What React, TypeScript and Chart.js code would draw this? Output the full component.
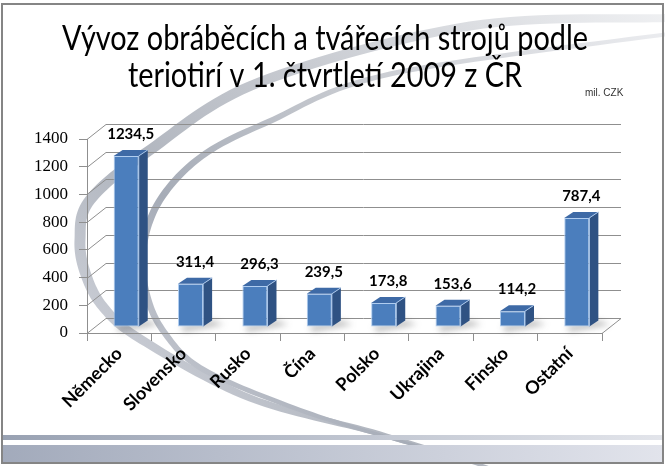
import React, { useEffect, useRef } from "react";
import { Chart, registerables } from "chart.js";

Chart.register(...registerables);

const categories = ["Německo", "Slovensko", "Rusko", "Čína", "Polsko", "Ukrajina", "Finsko", "Ostatní"];
const values = [1234.5, 311.4, 296.3, 239.5, 173.8, 153.6, 114.2, 787.4];
const yTicks = [0, 200, 400, 600, 800, 1000, 1200, 1400];
const titleLines = ["Vývoz obráběcích a tvářecích strojů podle", "teriotirí v 1. čtvrtletí 2009 z ČR"];
const unitLabel = "mil. CZK";

const W = 665;
const H = 466;
const GRID = "#8f8f8f";
const WALL_DX = 19;
const WALL_DY = -15;
const BAR_DX = 7;
const BAR_DY = -6;
const DEPTH_DX = 9;
const DEPTH_DY = -6;

type P = [number, number];

const outerArc: P[] = [[668, 18], [470, 26], [260, 82], [150, 150], [90, 200], [80, 240], [86, 275], [104, 308], [142, 340], [250, 398], [380, 434], [490, 468]];
const innerArc: P[] = [[668, 34], [390, 74], [268, 122], [202, 156], [160, 200], [143, 248], [146, 292], [164, 332], [204, 370], [300, 410], [390, 438], [440, 452]];

function sample(pts: P[], steps = 16): P[] {
  const out: P[] = [];
  for (let i = 0; i < pts.length - 1; i++) {
    const p0 = pts[Math.max(0, i - 1)], p1 = pts[i], p2 = pts[i + 1], p3 = pts[Math.min(pts.length - 1, i + 2)];
    for (let s = 0; s < steps; s++) {
      const t = s / steps, t2 = t * t, t3 = t2 * t;
      const f = (k: number) =>
        0.5 * (2 * p1[k] + (-p0[k] + p2[k]) * t + (2 * p0[k] - 5 * p1[k] + 4 * p2[k] - p3[k]) * t2 + (-p0[k] + 3 * p1[k] - 3 * p2[k] + p3[k]) * t3);
      out.push([f(0), f(1)]);
    }
  }
  out.push(pts[pts.length - 1]);
  return out;
}

function band(ctx: CanvasRenderingContext2D, pts: P[], wStart: number, wMax: number, wEnd: number, fill: CanvasGradient) {
  const s = sample(pts);
  const n = s.length;
  const left: P[] = [], right: P[] = [];
  for (let i = 0; i < n; i++) {
    const a = s[Math.max(0, i - 1)], b = s[Math.min(n - 1, i + 1)];
    let tx = b[0] - a[0], ty = b[1] - a[1];
    const len = Math.hypot(tx, ty) || 1;
    tx /= len; ty /= len;
    const u = i / (n - 1);
    const w = u < 0.45 ? wStart + (wMax - wStart) * Math.sin((u / 0.45) * Math.PI / 2) : wEnd + (wMax - wEnd) * Math.cos(((u - 0.45) / 0.55) * Math.PI / 2);
    left.push([s[i][0] - ty * w / 2, s[i][1] + tx * w / 2]);
    right.push([s[i][0] + ty * w / 2, s[i][1] - tx * w / 2]);
  }
  ctx.beginPath();
  ctx.moveTo(left[0][0], left[0][1]);
  for (const p of left) ctx.lineTo(p[0], p[1]);
  for (let i = right.length - 1; i >= 0; i--) ctx.lineTo(right[i][0], right[i][1]);
  ctx.closePath();
  ctx.fillStyle = fill;
  ctx.fill();
}

const backgroundPlugin = {
  id: "slideBackground",
  beforeDraw(chart: any) {
    const ctx: CanvasRenderingContext2D = chart.ctx;
    ctx.save();
    ctx.fillStyle = "#ffffff";
    ctx.fillRect(0, 0, W, H);

    const g1 = ctx.createLinearGradient(665, 0, 200, 466);
    g1.addColorStop(0, "#f0f1f3");
    g1.addColorStop(0.45, "#c9ccd2");
    g1.addColorStop(0.75, "#b0b5be");
    g1.addColorStop(1, "#cdd0d8");
    band(ctx, outerArc, 8, 11, 3, g1);
    const g2 = ctx.createLinearGradient(665, 0, 200, 466);
    g2.addColorStop(0, "#eeeff2");
    g2.addColorStop(0.45, "#c6c9cf");
    g2.addColorStop(0.75, "#a6acb7");
    g2.addColorStop(1, "#cacdd5");
    band(ctx, innerArc, 4, 7, 2, g2);

    const s1 = ctx.createLinearGradient(0, 0, W, 0);
    s1.addColorStop(0, "#98a1b2");
    s1.addColorStop(1, "#e3e5eb");
    ctx.fillStyle = s1;
    ctx.fillRect(2, 435, W - 4, 5);
    const s2 = ctx.createLinearGradient(0, 0, W, 0);
    s2.addColorStop(0, "#a2aabb");
    s2.addColorStop(1, "#e2e4ec");
    ctx.fillStyle = s2;
    ctx.fillRect(2, 445, W - 4, 17);

    ctx.strokeStyle = "#858585";
    ctx.lineWidth = 2;
    ctx.strokeRect(2, 4, W - 4, 459);

    ctx.fillStyle = "#000000";
    ctx.textAlign = "center";
    ctx.textBaseline = "alphabetic";
    ctx.font = "35px Lato";
    const m = ctx.measureText(titleLines[0]).width;
    const sx = 526 / m;
    ctx.save();
    ctx.translate(325, 0);
    ctx.scale(sx, 1);
    ctx.fillText(titleLines[0], 0, 50);
    ctx.fillText(titleLines[1], 0, 87);
    ctx.restore();

    ctx.font = "10px 'Liberation Sans'";
    ctx.textAlign = "left";
    ctx.fillStyle = "#333333";
    ctx.fillText(unitLabel, 585, 96);
    ctx.restore();
  },
};

const wallPlugin = {
  id: "wall3d",
  beforeDatasetsDraw(chart: any) {
    const ctx: CanvasRenderingContext2D = chart.ctx;
    const { left, right, bottom } = chart.chartArea;
    const y = chart.scales.y;
    ctx.save();
    ctx.strokeStyle = GRID;
    ctx.lineWidth = 1;
    for (const v of yTicks) {
      const py = Math.round(y.getPixelForValue(v)) + 0.5;
      ctx.beginPath();
      ctx.moveTo(left, py);
      ctx.lineTo(left + WALL_DX, py + WALL_DY);
      ctx.lineTo(right + WALL_DX, py + WALL_DY);
      ctx.stroke();
    }
    const pb = Math.round(bottom) + 0.5;
    ctx.beginPath();
    ctx.moveTo(right, pb);
    ctx.lineTo(right + WALL_DX, pb + WALL_DY);
    ctx.stroke();

    const meta = chart.getDatasetMeta(0);
    ctx.filter = "blur(3px)";
    ctx.fillStyle = "rgba(60,60,60,0.35)";
    for (const el of meta.data) {
      const hw = el.width / 2;
      const bx = el.x + BAR_DX, bb = el.base + BAR_DY;
      ctx.beginPath();
      ctx.moveTo(bx - hw + 2, bb);
      ctx.lineTo(bx + hw + DEPTH_DX, bb + DEPTH_DY);
      ctx.lineTo(bx + hw + DEPTH_DX + 12, bb + DEPTH_DY + 4);
      ctx.lineTo(bx - hw + 6, bb + 5);
      ctx.closePath();
      ctx.fill();
    }
    ctx.filter = "none";
    ctx.restore();

    ctx.save();
    ctx.translate(BAR_DX, BAR_DY);
  },
  afterDatasetsDraw(chart: any) {
    const ctx: CanvasRenderingContext2D = chart.ctx;
    ctx.restore();
    const meta = chart.getDatasetMeta(0);
    ctx.save();
    meta.data.forEach((el: any, i: number) => {
      const hw = el.width / 2;
      const x = el.x + BAR_DX;
      const top = el.y + BAR_DY;
      const base = el.base + BAR_DY;
      ctx.beginPath();
      ctx.moveTo(x + hw, top);
      ctx.lineTo(x + hw + DEPTH_DX, top + DEPTH_DY);
      ctx.lineTo(x + hw + DEPTH_DX, base + DEPTH_DY);
      ctx.lineTo(x + hw, base);
      ctx.closePath();
      ctx.fillStyle = "#2f5283";
      ctx.fill();
      ctx.beginPath();
      ctx.moveTo(x - hw, top);
      ctx.lineTo(x + hw, top);
      ctx.lineTo(x + hw + DEPTH_DX, top + DEPTH_DY);
      ctx.lineTo(x - hw + DEPTH_DX, top + DEPTH_DY);
      ctx.closePath();
      ctx.fillStyle = "#3e6aa6";
      ctx.fill();
      ctx.strokeStyle = "#a9c6ea";
      ctx.lineWidth = 1;
      ctx.beginPath();
      ctx.moveTo(x + hw, base);
      ctx.lineTo(x + hw, top);
      ctx.lineTo(x + hw + DEPTH_DX, top + DEPTH_DY);
      ctx.stroke();

      ctx.fillStyle = "#000000";
      ctx.font = "bold 15px Lato";
      ctx.textAlign = "center";
      ctx.textBaseline = "middle";
      ctx.fillText(values[i].toFixed(1).replace(".", ","), x + DEPTH_DX / 2, top - 22);
    });
    ctx.restore();
  },
};

export default function App() {
  const ref = useRef<HTMLCanvasElement | null>(null);
  useEffect(() => {
    if (!ref.current) return;
    const chart = new Chart(ref.current, {
      type: "bar",
      data: {
        labels: categories,
        datasets: [
          {
            data: values,
            backgroundColor: "#4b7ebd",
            borderColor: "#b0cdf0",
            borderWidth: 1,
            borderSkipped: false,
            barPercentage: 0.39,
            categoryPercentage: 1,
          },
        ],
      },
      options: {
        responsive: false,
        animation: false,
        devicePixelRatio: 1,
        layout: { padding: { left: 0, top: 139, right: 63, bottom: 0 } },
        plugins: { legend: { display: false }, tooltip: { enabled: false }, title: { display: false } },
        scales: {
          x: {
            afterFit: (s: any) => {
              s.height = 133;
            },
            grid: { offset: true, drawOnChartArea: false, drawTicks: true, tickLength: 8, color: GRID },
            border: { display: true, color: GRID },
            ticks: {
              minRotation: 45,
              maxRotation: 45,
              padding: 2,
              color: "#000000",
              font: { family: "Lato", size: 18, weight: "bold" },
            },
          },
          y: {
            min: 0,
            max: 1400,
            afterFit: (s: any) => {
              s.width = 87;
            },
            afterBuildTicks: (s: any) => {
              s.ticks = yTicks.map((v) => ({ value: v }));
            },
            grid: { drawOnChartArea: false, drawTicks: true, tickLength: 8, color: GRID },
            border: { display: true, color: GRID },
            ticks: {
              padding: 11,
              color: "#000000",
              callback: (v: any) => String(v),
              font: { family: "'Liberation Serif', 'Times New Roman', 'DejaVu Serif', serif", size: 17 },
            },
          },
        },
      },
      plugins: [backgroundPlugin, wallPlugin],
    } as any);
    return () => chart.destroy();
  }, []);
  return (
    <div style={{ position: "absolute", left: 0, top: 0, width: W, height: H }}>
      <canvas ref={ref} width={W} height={H} style={{ display: "block" }} />
    </div>
  );
}
